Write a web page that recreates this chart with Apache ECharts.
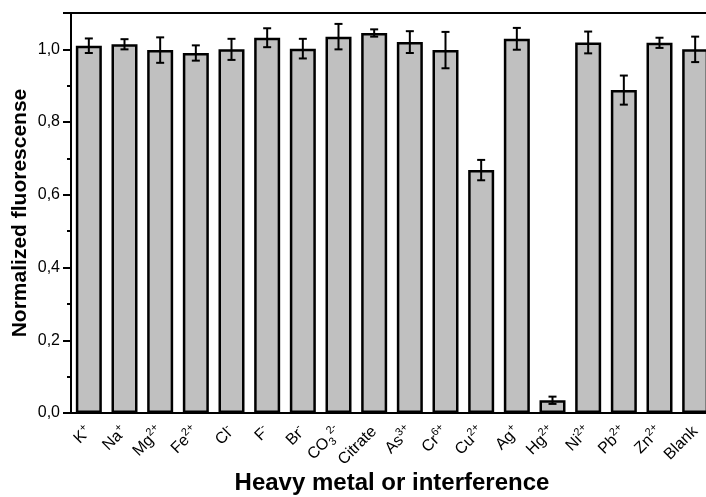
<!DOCTYPE html>
<html>
<head>
<meta charset="utf-8">
<script src="https://cdn.jsdelivr.net/npm/echarts@6/dist/echarts.min.js"></script>
<style>html,body{margin:0;padding:0;background:#fff;overflow:hidden}#c{width:706px;height:497px}</style>
</head>
<body>
<div id="c"></div>
<script>
const categories = ['K{sup|+}','Na{sup|+}','Mg{sup|2+}','Fe{sup|2+}','Cl{sup|-}','F{sup|-}','Br{sup|-}','CO{sub|3}{sup|2-}','Citrate','As{sup|3+}','Cr{sup|6+}','Cu{sup|2+}','Ag{sup|+}','Hg{sup|2+}','Ni{sup|2+}','Pb{sup|2+}','Zn{sup|2+}','Blank'];
const values = [1.010,1.014,0.998,0.990,1.000,1.032,1.002,1.035,1.045,1.020,0.998,0.668,1.029,0.035,1.019,0.888,1.018,1.000];
const errors = [0.020,0.014,0.035,0.021,0.029,0.026,0.027,0.035,0.010,0.030,0.050,0.028,0.030,0.010,0.030,0.040,0.014,0.035];
const yTicks = ['0,0','0,2','0,4','0,6','0,8','1,0'];

const chart = echarts.init(document.getElementById('c'));
const font = 'Liberation Sans, Arial, sans-serif';
const errData = values.map((v,i)=>[i,v,errors[i]]);
chart.setOption({
  animation:false,
  grid:{left:71,top:13,width:642,bottom:84,containLabel:false,outerBoundsMode:'none',show:true,borderColor:'#000',borderWidth:2,backgroundColor:'transparent'},
  xAxis:[{
    type:'category',data:categories,position:'bottom',
    name:'Heavy metal or interference',nameLocation:'middle',nameGap:58,nameMoveOverlap:false,
    nameTextStyle:{fontFamily:font,fontWeight:'bold',fontSize:24,color:'#000'},
    axisLine:{lineStyle:{color:'#000',width:2}},
    axisTick:{alignWithLabel:true,length:7,lineStyle:{color:'#000',width:2}},
    axisLabel:{interval:0,rotate:45,margin:16,fontFamily:font,fontSize:16,color:'#000',
      rich:{sup:{fontSize:11,verticalAlign:'top',padding:[0,0,10,0],fontFamily:font,color:'#000'},
            sub:{fontSize:11,verticalAlign:'bottom',padding:[9,0,0,0],fontFamily:font,color:'#000'}}}
  },{
    type:'category',data:categories,position:'bottom',
    axisLine:{show:false},
    axisTick:{alignWithLabel:false,length:4,lineStyle:{color:'#000',width:2}},
    axisLabel:{show:false}
  }],
  yAxis:{
    type:'value',min:0,max:1.1,interval:0.2,
    name:'Normalized fluorescense',nameLocation:'middle',nameGap:40,nameMoveOverlap:false,
    nameTextStyle:{fontFamily:font,fontWeight:'bold',fontSize:21,color:'#000'},
    axisLine:{show:true,lineStyle:{color:'#000',width:2}},
    axisTick:{show:true,length:8,lineStyle:{color:'#000',width:2}},
    minorTick:{show:true,splitNumber:2,length:4,lineStyle:{color:'#000',width:2}},
    splitLine:{show:false},
    axisLabel:{fontFamily:font,fontSize:16,color:'#000',margin:11,
      formatter:(v)=>{const i=Math.round(v/0.2);return Math.abs(v-i*0.2)<1e-6?yTicks[i]:'';}}
  },
  series:[{
    type:'bar',data:values,barWidth:26,
    itemStyle:{color:'#c0c0c0',borderColor:'#000',borderWidth:2.5}
  },{
    type:'custom',data:errData,z:10,
    encode:{x:0,y:1},
    renderItem:(params,api)=>{
      const i=api.value(0),v=api.value(1),e=api.value(2);
      const top=api.coord([i,v+e]),bot=api.coord([i,v-e]);
      const w=4;
      const st={stroke:'#000',lineWidth:2};
      return {type:'group',children:[
        {type:'line',shape:{x1:top[0],y1:top[1],x2:bot[0],y2:bot[1]},style:st},
        {type:'line',shape:{x1:top[0]-w,y1:top[1],x2:top[0]+w,y2:top[1]},style:st},
        {type:'line',shape:{x1:bot[0]-w,y1:bot[1],x2:bot[0]+w,y2:bot[1]},style:st}
      ]};
    }
  }]
});
</script>
</body>
</html>
